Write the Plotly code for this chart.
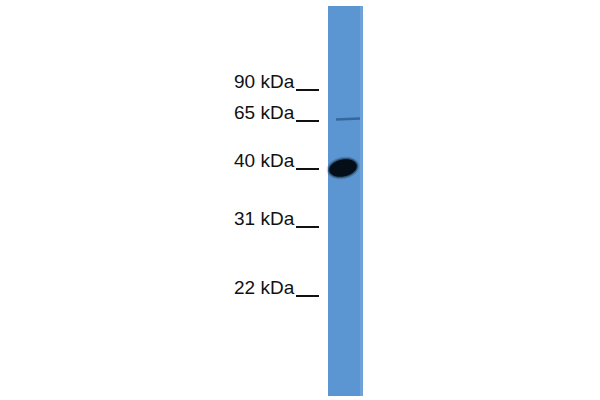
import math
import plotly.graph_objects as go

# ladder (molecular weight markers) and their migration position in the blot
marker_labels = ['90 kDa', '65 kDa', '40 kDa', '31 kDa', '22 kDa']
marker_pos = [90, 121, 169, 227, 296]

# detected bands: migration position, horizontal centre, width, height, darkness
band_pos = [119, 168]
band_x = [348, 343]
band_w = [24, 28]
band_h = [2.5, 17]
band_alpha = [0.6, 1.0]

lane_left, lane_right = 328, 363
lane_top, lane_bottom = 6, 396


def ellipse_path(cx, cy, rx, ry, tilt_deg, n=40):
    t = math.radians(tilt_deg)
    pts = []
    for i in range(n):
        a = 2 * math.pi * i / n
        ex, ey = rx * math.cos(a), ry * math.sin(a)
        pts.append((cx + ex * math.cos(t) - ey * math.sin(t),
                    cy + ex * math.sin(t) + ey * math.cos(t)))
    return 'M ' + ' L '.join('%.2f,%.2f' % p for p in pts) + ' Z'


fig = go.Figure()

# invisible trace so the axes exist
fig.add_trace(go.Scatter(x=[0, 600], y=[0, 400], mode='markers',
                         marker=dict(opacity=0), hoverinfo='skip', showlegend=False))

shapes = []
# lane
shapes.append(dict(type='rect', xref='x', yref='y',
                   x0=lane_left, x1=lane_right, y0=lane_top, y1=lane_bottom,
                   fillcolor='#5b96d3', line=dict(width=0), layer='below'))
shapes.append(dict(type='rect', xref='x', yref='y',
                   x0=lane_right - 3, x1=lane_right, y0=lane_top, y1=lane_bottom,
                   fillcolor='rgba(255,255,255,0.12)', line=dict(width=0), layer='below'))

# bands (soft edges by stacking a few ellipses)
for y, x, w, h, a in zip(band_pos, band_x, band_w, band_h, band_alpha):
    if h < 6:
        shapes.append(dict(type='line', xref='x', yref='y',
                           x0=x - w / 2, x1=x + w / 2, y0=y + 0.5, y1=y - 0.5,
                           line=dict(color='rgba(30,70,120,%.2f)' % a, width=h)))
    else:
        for grow, op in [(2.5, 0.18), (1.2, 0.4), (0, 1.0)]:
            shapes.append(dict(type='path', xref='x', yref='y',
                               path=ellipse_path(x, y, w / 2 + grow, h / 2 + grow, -12),
                               fillcolor='rgba(4,14,24,%.2f)' % (op * a),
                               line=dict(width=0)))

annotations = []
for label, y in zip(marker_labels, marker_pos):
    shapes.append(dict(type='line', xref='x', yref='y',
                       x0=296, x1=319, y0=y, y1=y,
                       line=dict(color='#111111', width=2)))
    annotations.append(dict(x=297, y=y - 8.5, xref='x', yref='y', text=label,
                            showarrow=False, xanchor='right', yanchor='middle',
                            font=dict(family='Liberation Sans, Arial', size=19, color='#111111')))

fig.update_layout(
    width=600, height=400,
    margin=dict(l=0, r=0, t=0, b=0),
    paper_bgcolor='white', plot_bgcolor='white',
    shapes=shapes, annotations=annotations,
    xaxis=dict(range=[0, 600], visible=False, fixedrange=True),
    yaxis=dict(range=[400, 0], visible=False, fixedrange=True),
    showlegend=False,
)

fig.write_html('out.html', config=dict(displayModeBar=False),
               post_script="document.body.style.margin='0';")
